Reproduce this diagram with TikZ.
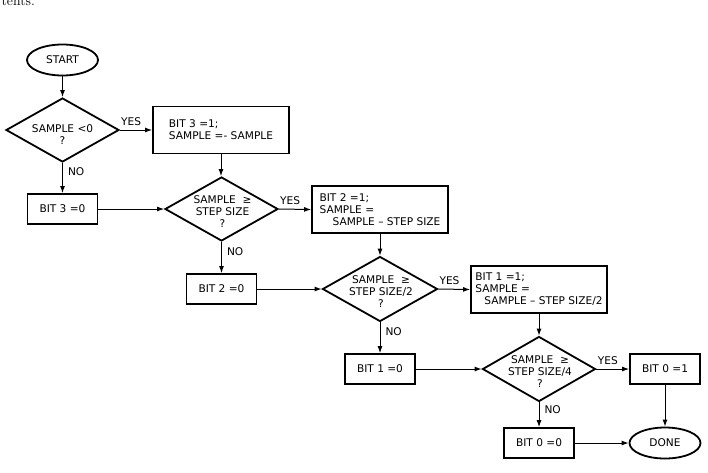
\documentclass[tikz,border=0pt]{standalone}
\usepackage{fontspec}
\newfontfamily\dv{DejaVu Sans}
\usetikzlibrary{shapes.geometric,arrows.meta}
\begin{document}
\begin{tikzpicture}[x=1pt,y=-1pt,
  base/.style={font=\dv\fontsize{10.6}{12}\selectfont},
  term/.style={base, ellipse, draw, line width=1.8pt, minimum width=71pt, minimum height=31pt, inner sep=0},
  dia/.style={diamond, draw, line width=1.8pt, minimum width=113pt, minimum height=64pt, inner sep=0},
  dtext/.style={base, align=center, inner sep=0},
  sbox/.style={base, rectangle, draw, line width=1.8pt, minimum width=70pt, minimum height=30pt, inner sep=0},
  bbox/.style={base, rectangle, draw, line width=1.8pt, minimum width=136pt, minimum height=47pt, inner sep=0, align=left},
  arr/.style={line width=1pt, -{Latex[length=7pt,width=5pt]}},
  lab/.style={base, inner sep=0}
]
\useasboundingbox (0,0) rectangle (708,472);
\node[anchor=base east, inner sep=0, font=\fontsize{14}{14}\selectfont] (frag) at (35,5) {tents.};

\node[term] (start) at (62.5,60) {START};
\node[dia] (d1) at (62.5,130) {};
\node[dtext] (t1) at (62.5,135) {SAMPLE <0\\?};
\node[bbox] (b1) at (221,130) {BIT 3 =1;\\SAMPLE =- SAMPLE};
\node[sbox] (b30) at (62.5,209) {BIT 3 =0};

\node[dia] (d2) at (221.5,209) {};
\node[dtext] (t2) at (222.5,212) {SAMPLE \ ≥\\STEP SIZE\\?};
\node[bbox] (b2) at (380,209.5) {BIT 2 =1;\\SAMPLE =\\\hspace*{13pt}SAMPLE – STEP SIZE};
\node[sbox] (b20) at (221.5,289) {BIT 2 =0};

\node[dia, minimum width=115pt, minimum height=65pt] (d3) at (380,289) {};
\node[dtext] (t3) at (381,292) {SAMPLE \ ≥\\STEP SIZE/2\\?};
\node[bbox] (b3) at (539,289.5) {BIT 1 =1;\\SAMPLE =\\\hspace*{9pt}SAMPLE – STEP SIZE/2};
\node[sbox] (b10) at (380,369) {BIT 1 =0};

\node[dia, minimum height=65pt] (d4) at (539,369) {};
\node[dtext] (t4) at (540,372) {SAMPLE \ ≥\\STEP SIZE/4\\?};
\node[sbox] (b01) at (665,369) {BIT 0 =1};
\node[sbox] (b00) at (539,443) {BIT 0 =0};
\node[term] (done) at (665,443) {DONE};

\draw[arr] (start) -- (d1.north);
\draw[arr] (d1.east) -- node[lab, above=4pt, pos=0.35] (y1) {YES} (b1.west);
\draw[arr] (d1.south) -- node[lab, right=5pt, pos=0.3] (n1) {NO} (b30.north);
\draw[arr] (b1.south) -- (b1.south |- d2.north);
\draw[arr] (b30.east) -- (d2.west);

\draw[arr] (d2.east) -- node[lab, above=4pt, pos=0.35] (y2) {YES} (b2.west);
\draw[arr] (d2.south) -- node[lab, right=5pt, pos=0.3] (n2) {NO} (b20.north);
\draw[arr] (b2.south) -- (b2.south |- d3.north);
\draw[arr] (b20.east) -- (d3.west);

\draw[arr] (d3.east) -- node[lab, above=4pt, pos=0.35] (y3) {YES} (b3.west);
\draw[arr] (d3.south) -- node[lab, right=5pt, pos=0.3] (n3) {NO} (b10.north);
\draw[arr] (b3.south) -- (b3.south |- d4.north);
\draw[arr] (b10.east) -- (d4.west);

\draw[arr] (d4.east) -- node[lab, above=4pt, pos=0.35] (y4) {YES} (b01.west);
\draw[arr] (d4.south) -- node[lab, right=5pt, pos=0.3] (n4) {NO} (b00.north);
\draw[arr] (b01.south) -- (done.north);
\draw[arr] (b00.east) -- (done.west);
\end{tikzpicture}
\end{document}
